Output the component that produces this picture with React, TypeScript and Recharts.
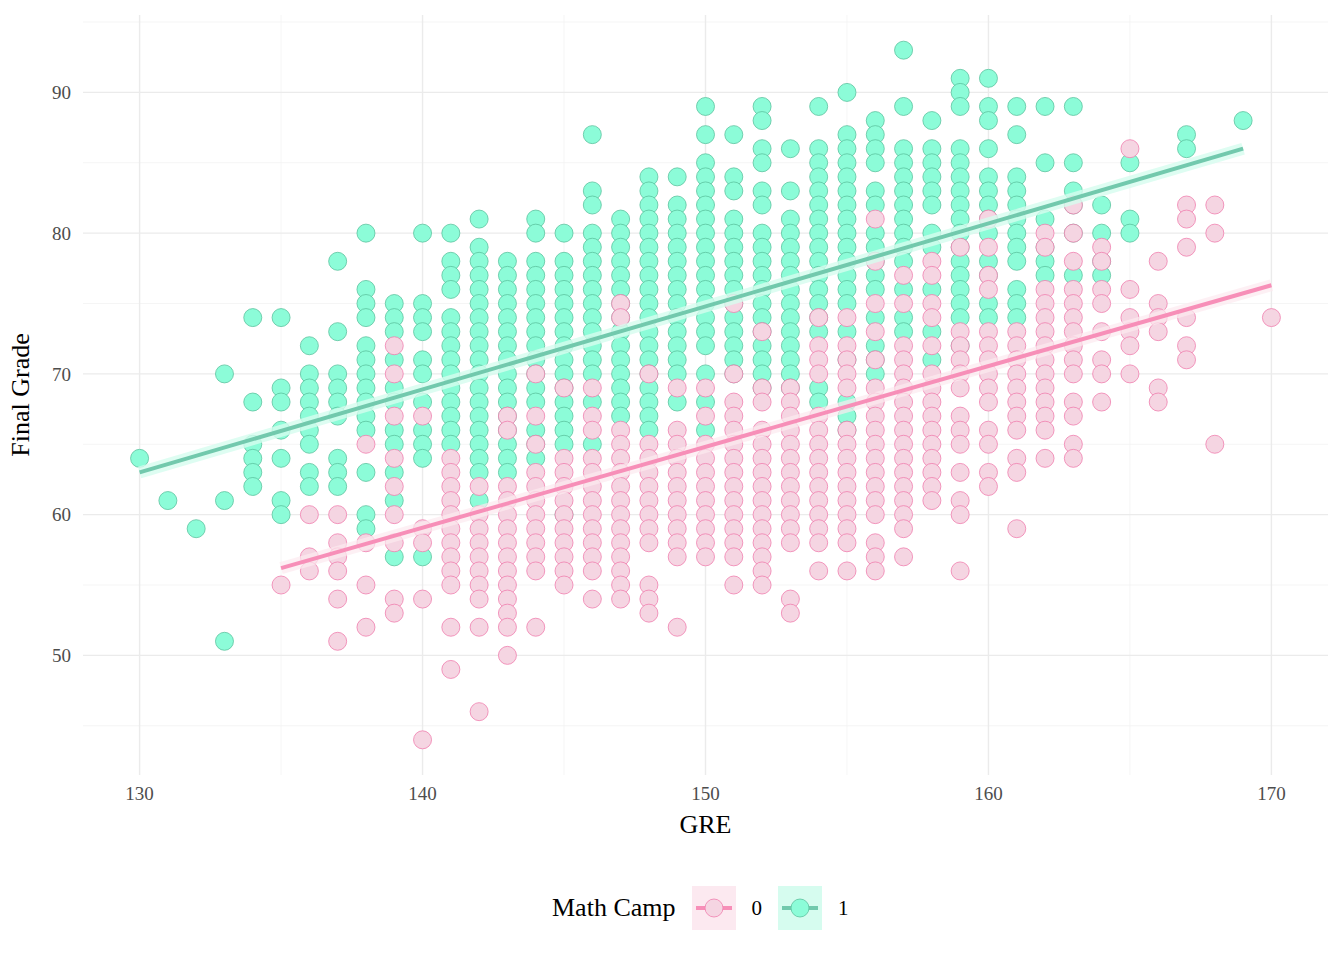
import React from 'react';
import { ScatterChart, Scatter, XAxis, YAxis, ReferenceLine } from 'recharts';

const gre = [130,131,132,133,134,135,136,137,138,139,140,141,142,143,144,145,146,147,148,149,150,151,152,153,154,155,156,157,158,159,160,161,162,163,164,165,166,167,168,169,170];

const grades1: number[][] = [
  [64],[61],[59],[70,61,51],[74,68,65,64,63,62],[74,69,68,66,64,61,60],
  [72,70,69,68,67,66,65,63,62],[78,73,70,69,68,67,64,63,62],
  [80,76,75,74,72,71,70,69,68,67,66,63,60,59],[75,74,73,71,69,68,66,65,63,61,57],
  [80,75,74,73,71,70,68,66,65,64,57],[80,78,77,76,74,73,72,71,70,69,68,67,66,65],
  [81,79,78,77,76,75,74,73,72,71,70,69,68,67,66,65,64,63,61],
  [78,77,76,75,74,73,72,71,70,69,68,67,66,65,64,63],
  [81,80,78,77,76,75,74,73,72,71,70,69,68,66,65,64],
  [80,78,77,76,75,74,73,72,71,70,69,68,67,66,65,60],
  [87,83,82,80,79,78,77,76,75,74,73,72,71,70,68,65],
  [81,80,79,78,77,76,75,74,73,72,71,70,69,68,67],
  [84,83,82,81,80,79,78,77,76,75,74,73,72,71,70,69,68,67,66],
  [84,82,81,80,79,78,77,76,75,74,73,72,71,70,68],
  [89,87,85,84,83,82,81,80,79,78,77,76,75,74,73,72,70,68,66],
  [87,84,83,81,80,79,78,77,76,75,74,73,72,71,70],
  [89,88,86,85,83,82,80,79,78,77,76,75,74,73,72,71,70,69],
  [86,83,81,80,79,78,77,76,75,74,73,72,71,70,69],
  [89,86,85,84,83,82,81,80,79,78,77,76,75,74,73,69,68],
  [90,87,86,85,84,83,82,81,80,79,78,77,76,75,73,71,68,67,66],
  [88,87,86,85,83,82,80,79,78,77,76,74,72,71,70],
  [93,89,86,85,84,83,82,81,80,79,78,76,74,73],
  [88,86,85,84,83,82,80,79,76,73,71],
  [91,90,89,86,85,84,83,82,81,80,79,78,77,76,75,74,72],
  [91,89,88,86,84,83,82,81,80,78,77,75,74],
  [89,87,84,83,82,81,80,79,78,76,75,74],
  [89,85,81,79,78,77],[89,85,83,82,80,77],[82,80,78,77],[85,81,80],
  [],[87,86],[],[88],[],
];

const grades0: number[][] = [
  [],[],[],[],[],[55],[60,57,56],[60,58,57,56,54,51],[65,58,55,52],
  [72,70,67,64,62,60,58,54,53],[67,59,58,54,44],
  [64,63,62,61,60,59,58,57,56,55,52,49],[62,60,59,58,57,56,55,54,52,46],
  [67,66,62,61,60,59,58,57,56,55,54,53,52,50],
  [70,67,65,63,62,61,60,59,58,57,56,52],[69,64,63,62,61,60,59,58,57,56,55],
  [69,67,66,64,63,62,61,60,59,58,57,56,54],
  [75,74,66,65,64,63,62,61,60,59,58,57,56,55,54],
  [70,65,64,63,62,61,60,59,58,55,54,53],[69,66,65,64,63,62,61,60,59,58,57,52],
  [69,67,65,64,63,62,61,60,59,58,57],
  [75,70,68,67,66,65,64,63,62,61,60,59,58,57,55],
  [73,69,68,66,65,64,63,62,61,60,59,58,57,56,55],
  [69,68,67,66,65,64,63,62,61,60,59,58,54,53],
  [74,72,71,70,67,66,65,64,63,62,61,60,59,58,56],
  [74,72,71,70,69,66,65,64,63,62,61,60,59,58,56],
  [81,78,75,73,71,69,68,67,66,65,64,63,62,61,60,58,57,56],
  [77,75,72,71,70,69,68,67,66,65,64,63,62,61,60,59,57],
  [78,77,75,74,72,70,69,68,67,66,65,64,63,62,61],
  [79,73,72,71,70,69,67,66,65,63,61,60,56],
  [81,79,77,76,73,72,71,70,69,68,66,65,63,62],
  [73,72,71,70,69,68,67,66,64,63,59],
  [80,79,76,75,74,73,72,71,70,69,68,67,66,64],
  [82,80,78,76,75,74,73,72,71,70,68,67,65,64],
  [79,78,76,75,73,71,70,68],[86,76,74,73,72,70],[78,75,74,73,69,68],
  [82,81,79,74,72,71],[82,80,65],[],[74],
];

const fit1 = [{ x: 130, y: 63.0 }, { x: 169, y: 86.0 }];
const fit0 = [{ x: 135, y: 56.2 }, { x: 170, y: 76.3 }];

const xMajor = [130, 140, 150, 160, 170];
const xMinor = [135, 145, 155, 165];
const yMajor = [50, 60, 70, 80, 90];
const yMinor = [45, 55, 65, 75, 85, 95];

const toPts = (g: number[][]) => gre.flatMap((x, i) => g[i].map((y) => ({ x, y })));
const pts0 = toPts(grades0);
const pts1 = toPts(grades1);

const font = '"Liberation Serif", serif';

const dot = (fill: string, stroke: string) => (p: any) =>
  <circle cx={p.cx} cy={p.cy} r={9} fill={fill} stroke={stroke} strokeWidth={0.8} />;

export default function App() {
  return (
    <div style={{ position: 'relative', width: 1328, height: 950, fontFamily: font }}>
      <ScatterChart width={1328} height={950} margin={{ top: 7, right: 8, left: 0, bottom: 123 }}>
        {xMinor.map((v) => <ReferenceLine key={'xm' + v} x={v} stroke="#f2f2f2" strokeWidth={0.8} />)}
        {yMinor.map((v) => <ReferenceLine key={'ym' + v} y={v} stroke="#f2f2f2" strokeWidth={0.8} />)}
        {xMajor.map((v) => <ReferenceLine key={'xM' + v} x={v} stroke="#ebebeb" strokeWidth={1.4} />)}
        {yMajor.map((v) => <ReferenceLine key={'yM' + v} y={v} stroke="#ebebeb" strokeWidth={1.4} />)}
        <XAxis type="number" dataKey="x" domain={[128, 172]} ticks={xMajor} axisLine={false} tickLine={false}
          height={60} tick={{ fontSize: 19, fill: '#4d4d4d', fontFamily: font }} tickMargin={6}
          label={{ value: 'GRE', position: 'insideBottom', offset: 2, fontSize: 26, fill: '#000', fontFamily: font }} />
        <YAxis type="number" dataKey="y" domain={[41.5, 95.5]} ticks={yMajor} axisLine={false} tickLine={false}
          width={75} tick={{ fontSize: 19, fill: '#4d4d4d', fontFamily: font }} tickMargin={6}
          label={{ value: 'Final Grade', angle: -90, position: 'insideLeft', offset: 0, dx: 12, fontSize: 26, fill: '#000', fontFamily: font, style: { textAnchor: 'middle' } }} />
        <Scatter data={pts1} shape={dot('#8cfcd8', '#5cc39e')} isAnimationActive={false} />
        <Scatter data={pts0} shape={dot('#f5d5e2', '#f07fae')} isAnimationActive={false} />
        <Scatter data={fit1} line={{ stroke: '#d6fcef', strokeWidth: 12, strokeOpacity: 0.8 }} shape={() => null} isAnimationActive={false} />
        <Scatter data={fit0} line={{ stroke: '#fce9f0', strokeWidth: 12, strokeOpacity: 0.7 }} shape={() => null} isAnimationActive={false} />
        <Scatter data={fit1} line={{ stroke: '#72c9ad', strokeWidth: 4 }} shape={() => null} isAnimationActive={false} />
        <Scatter data={fit0} line={{ stroke: '#f78fb8', strokeWidth: 4 }} shape={() => null} isAnimationActive={false} />
      </ScatterChart>
      <div style={{ position: 'absolute', left: 544, top: 878, height: 44, display: 'flex', alignItems: 'center', fontSize: 26, color: '#000' }}>
        <span style={{ marginRight: 16 }}>Math Camp</span>
        <svg width={44} height={44} style={{ background: '#fce9f0' }}>
          <line x1={4} y1={22} x2={40} y2={22} stroke="#f78fb8" strokeWidth={4} />
          <circle cx={22} cy={22} r={9} fill="#f5d5e2" stroke="#f07fae" strokeWidth={0.8} />
        </svg>
        <span style={{ marginLeft: 16, marginRight: 16, fontSize: 21 }}>0</span>
        <svg width={44} height={44} style={{ background: '#d6fcef' }}>
          <line x1={4} y1={22} x2={40} y2={22} stroke="#72c9ad" strokeWidth={4} />
          <circle cx={22} cy={22} r={9} fill="#8cfcd8" stroke="#5cc39e" strokeWidth={0.8} />
        </svg>
        <span style={{ marginLeft: 16, fontSize: 21 }}>1</span>
      </div>
    </div>
  );
}
